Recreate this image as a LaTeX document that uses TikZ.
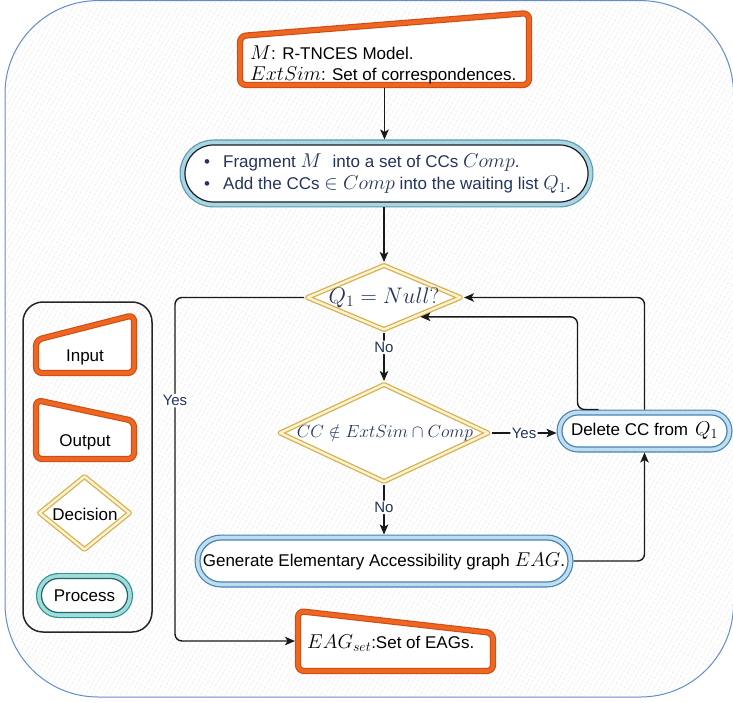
\RequirePackage{fix-cm}
\documentclass[tikz,border=0pt]{standalone}
\usepackage{fontspec}
\setmainfont{Liberation Sans}
\usetikzlibrary{arrows.meta,shapes.geometric,patterns.meta}

\definecolor{frameblue}{RGB}{100,140,205}
\definecolor{hatch}{RGB}{226,226,226}
\definecolor{orEdge}{RGB}{205,78,18}
\definecolor{orBand}{RGB}{238,102,34}
\definecolor{gold}{RGB}{214,178,80}
\definecolor{goldBand}{RGB}{251,242,210}
\definecolor{pOuter}{RGB}{92,152,175}
\definecolor{pBand}{RGB}{170,214,226}
\definecolor{pInner}{RGB}{25,28,40}
\definecolor{bOuter}{RGB}{70,130,180}
\definecolor{bBand}{RGB}{190,222,238}
\definecolor{bInner}{RGB}{70,130,180}
\definecolor{tOuter}{RGB}{38,150,150}
\definecolor{tBand}{RGB}{165,218,218}
\definecolor{tInner}{RGB}{25,105,105}
\definecolor{navy}{RGB}{35,52,95}
\definecolor{linek}{RGB}{25,25,25}

\newcommand\bodyfont{\fontsize{17}{21}\selectfont}
\newcommand\lblfont{\fontsize{15}{18}\selectfont}
\newcommand\mth[1]{{\fontsize{20}{21}\selectfont$#1$}}

\tikzset{
  conn/.style={draw=linek, line width=1.4pt, rounded corners=7pt,
    -{Stealth[length=10pt,width=8.5pt,inset=2.5pt]}},
  lbl/.style={fill=white, text=navy, font=\lblfont, inner sep=1.5pt},
  txt/.style={font=\bodyfont, inner sep=0pt},
  iobox/.style={draw=orEdge, double=orBand, double distance=4pt, line width=1.1pt,
    fill=white, rounded corners=6pt, line join=round},
  decision/.style={diamond, draw=gold, double=goldBand, double distance=2.4pt,
    line width=1.3pt, fill=white, inner sep=0pt, outer sep=2.5pt, line join=round},
  proc/.style n args={3}{rectangle, draw=#3, line width=1.2pt, fill=white,
    inner sep=0pt, outer sep=5.5pt,
    preaction={draw=#1, line width=11pt},
    preaction={draw=#2, line width=8.6pt}},
  procdark/.style={proc={pOuter}{pBand}{pInner}},
  procblue/.style={proc={bOuter}{bBand}{bInner}},
  procteal/.style={proc={tOuter}{tBand}{tInner}},
  holder/.style={inner sep=0pt, outer sep=0pt}
}

\begin{document}
\begin{tikzpicture}[x=1pt,y=-1pt]
\useasboundingbox (0,0) rectangle (733,703);

% outer container with light hatching
\draw[draw=frameblue, line width=1pt, rounded corners=93pt,
  pattern={Lines[angle=60,distance=4pt,line width=0.6pt]}, pattern color=hatch]
  (5,0.6) rectangle (733.5,697);

% legend
\node[draw=black!85, line width=1.5pt, rounded corners=20pt, minimum width=129pt,
  minimum height=330pt, inner sep=0pt] (legend) at (87.5,467) {};
\draw[iobox] (36,340) -- (134,315) -- (134,373) -- (36,373) -- cycle;
\node[txt, anchor=base] (lgIn) at (85,361) {Input};
\draw[iobox] (36,400) -- (134,421) -- (134,459) -- (36,459) -- cycle;
\node[txt, anchor=base] (lgOut) at (85,446) {Output};
\node[decision, minimum width=92pt, minimum height=75pt] (lgDec) at (84.5,513) {};
\node[txt, anchor=base] (lgDecTxt) at (85,520) {Decision};
\node[procteal, minimum width=86pt, minimum height=34pt, rounded corners=16.9pt,
  font=\bodyfont] (lgProc) at (84.5,595.5) {Process};

% input
\draw[iobox] (240,36) -- (529,13) -- (529,85) -- (240,85) -- cycle;
\node[holder, minimum width=295pt, minimum height=55pt] (in) at (384.5,60.5) {};
\node[txt, anchor=base west] (inL1) at (250,60) {\mth{M}: R-TNCES Model.};
\node[txt, anchor=base west] (inL2) at (250,81) {\mth{ExtSim}: Set of correspondences.};

% fragmentation step
\node[procdark, minimum width=403pt, minimum height=57pt, rounded corners=28.4pt]
  (P1) at (386.5,173.5) {};
\node[txt, anchor=base west, text=navy] (P1L1) at (204,168)
  {\makebox[19pt][l]{\textbullet}Fragment \mth{M}\hspace{11pt}into a set of CCs \mth{Comp}.};
\node[txt, anchor=base west, text=navy] (P1L2) at (204,190)
  {\makebox[19pt][l]{\textbullet}Add the CCs \mth{\in Comp} into the waiting list \mth{Q_1}.};

% decisions
\node[decision, minimum width=155pt, minimum height=66pt] (D1) at (384,297.5) {};
\node[inner sep=0pt, anchor=base, text=navy] (D1txt) at (384,303)
  {\fontsize{22.5}{24}\selectfont$Q_1 = Null?$};
\node[decision, minimum width=210pt, minimum height=99pt] (D2) at (384,433) {};
\node[inner sep=0pt, anchor=base, text=navy] (D2txt) at (385,437)
  {\fontsize{17.6}{20}\selectfont$CC \notin ExtSim \cap Comp$};

% processes
\node[procblue, minimum width=165pt, minimum height=32pt, rounded corners=15.9pt,
  font=\bodyfont] (Del) at (644.5,431) {Delete CC from\hspace{7pt}\mth{Q_1}};
\node[procblue, minimum width=368pt, minimum height=42pt, rounded corners=20.9pt,
  font=\bodyfont] (Gen) at (384,561)
  {Generate Elementary Accessibility graph \mth{EAG}.};

% output
\draw[iobox] (298,611) -- (493,633) -- (493,671) -- (298,671) -- cycle;
\node[holder, minimum width=201pt, minimum height=40pt] (Out) at (395.5,641) {};
\node[txt, anchor=base west] (OutTxt) at (307,648) {\mth{EAG_{set}}:Set of EAGs.};

% connectors
\draw[conn] (in.south) -- (in.south |- P1.north);
\draw[conn] (P1.south -| D1.north) -- (D1.north);
\draw[conn] (D1.south) -- node[lbl, pos=0.3] {No} (D2.north);
\draw[conn] (D2.east) -- node[lbl, pos=0.5] {Yes} (D2.east -| Del.west);
\draw[conn] (D2.south) -- node[lbl, pos=0.45] {No} (Gen.north);
\draw[conn] (Gen.east) -| (Del.south);
\draw[conn] (Del.north) |- (D1.east);
\draw[conn] ([xshift=-46pt]Del.north) -- ++(-21,0) |- (D1.-28);
\draw[conn] (D1.west) -| node[lbl, pos=0.65] {Yes} ([xshift=-120pt]Out.west) -- (Out.west);
\end{tikzpicture}
\end{document}
